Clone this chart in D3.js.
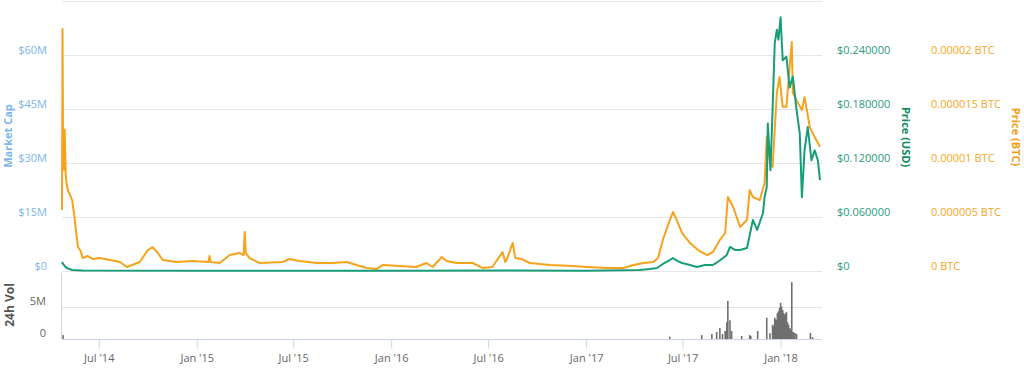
<!DOCTYPE html>
<html>
<head>
<meta charset="utf-8">
<script src="https://cdn.jsdelivr.net/npm/d3@7"></script>
<style>
  html, body { margin: 0; padding: 0; background: #fff; }
  svg { display: block; font-family: "Open Sans", sans-serif; }
</style>
</head>
<body>
<div id="chart"></div>
<script>
// Prix en BTC (date, valeur)
const priceBtc = [
  ["2014-04-23", 5.65e-6], ["2014-04-24", 22.4e-6], ["2014-04-25", 11.2e-6], ["2014-04-26", 12.6e-6],
  ["2014-04-27", 9.35e-6], ["2014-04-28", 13.1e-6], ["2014-04-30", 8.9e-6], ["2014-05-02", 7.96e-6],
  ["2014-05-04", 7.5e-6], ["2014-05-08", 7.04e-6], ["2014-05-12", 6.57e-6], ["2014-05-16", 5.19e-6],
  ["2014-05-19", 3.8e-6], ["2014-05-23", 2.22e-6], ["2014-05-27", 1.94e-6], ["2014-06-01", 1.2e-6],
  ["2014-06-10", 1.39e-6], ["2014-06-20", 1.11e-6], ["2014-07-03", 1.2e-6], ["2014-07-22", 1.02e-6],
  ["2014-08-10", 0.83e-6], ["2014-08-23", 0.37e-6], ["2014-09-16", 0.83e-6], ["2014-10-01", 1.94e-6],
  ["2014-10-10", 2.22e-6], ["2014-10-20", 1.67e-6], ["2014-10-29", 1.02e-6], ["2014-11-24", 0.83e-6],
  ["2014-12-24", 0.93e-6], ["2015-01-23", 0.83e-6], ["2015-01-25", 1.39e-6], ["2015-01-27", 0.83e-6],
  ["2015-02-13", 0.74e-6], ["2015-03-04", 1.48e-6], ["2015-03-22", 1.67e-6], ["2015-03-30", 1.48e-6],
  ["2015-04-01", 3.61e-6], ["2015-04-03", 1.67e-6], ["2015-04-10", 1.2e-6], ["2015-04-29", 0.74e-6],
  ["2015-06-11", 0.83e-6], ["2015-06-24", 1.11e-6], ["2015-07-13", 0.93e-6], ["2015-08-14", 0.74e-6],
  ["2015-09-13", 0.74e-6], ["2015-10-09", 0.83e-6], ["2015-10-28", 0.56e-6], ["2015-11-16", 0.28e-6],
  ["2015-12-05", 0.19e-6], ["2015-12-16", 0.56e-6], ["2016-01-17", 0.46e-6], ["2016-02-17", 0.37e-6],
  ["2016-03-07", 0.74e-6], ["2016-03-19", 0.37e-6], ["2016-04-05", 1.3e-6], ["2016-04-14", 0.93e-6],
  ["2016-05-03", 0.74e-6], ["2016-06-02", 0.74e-6], ["2016-06-20", 0.28e-6], ["2016-07-09", 0.37e-6],
  ["2016-07-28", 1.76e-6], ["2016-08-02", 0.83e-6], ["2016-08-06", 1.2e-6], ["2016-08-16", 2.59e-6],
  ["2016-08-21", 1.2e-6], ["2016-09-02", 1.11e-6], ["2016-09-17", 0.74e-6], ["2016-10-25", 0.56e-6],
  ["2016-12-07", 0.46e-6], ["2017-01-03", 0.37e-6], ["2017-02-10", 0.28e-6], ["2017-03-12", 0.28e-6],
  ["2017-03-31", 0.56e-6], ["2017-04-18", 0.74e-6], ["2017-05-07", 0.83e-6], ["2017-05-16", 1.2e-6],
  ["2017-05-25", 2.87e-6], ["2017-06-07", 4.72e-6], ["2017-06-13", 5.46e-6], ["2017-06-20", 4.72e-6],
  ["2017-06-30", 3.52e-6], ["2017-07-15", 2.59e-6], ["2017-07-30", 1.94e-6], ["2017-08-16", 1.48e-6],
  ["2017-08-27", 1.76e-6], ["2017-09-09", 2.87e-6], ["2017-09-19", 3.52e-6], ["2017-09-24", 6.85e-6],
  ["2017-10-04", 5.93e-6], ["2017-10-17", 4.07e-6], ["2017-10-30", 4.72e-6], ["2017-11-04", 7.5e-6],
  ["2017-11-10", 6.85e-6], ["2017-11-23", 6.57e-6], ["2017-12-02", 8.15e-6], ["2017-12-06", 12.4e-6],
  ["2017-12-12", 10.0e-6], ["2017-12-17", 9.63e-6], ["2017-12-25", 16.5e-6], ["2017-12-30", 17.96e-6],
  ["2018-01-05", 15.2e-6], ["2018-01-12", 15.2e-6], ["2018-01-18", 18.9e-6], ["2018-01-22", 21.2e-6],
  ["2018-01-24", 16.5e-6], ["2018-01-31", 15.8e-6], ["2018-02-10", 14.9e-6], ["2018-02-15", 16.1e-6],
  ["2018-02-25", 13.3e-6], ["2018-03-06", 12.4e-6], ["2018-03-16", 11.5e-6]
]

// Prix en USD
const priceUsd = [
  ["2014-04-23", 0.010], ["2014-04-25", 0.0078], ["2014-04-28", 0.0056], ["2014-05-02", 0.0033],
  ["2014-05-12", 0.0011], ["2014-06-01", 0.0006], ["2015-01-01", 0.0004], ["2016-01-01", 0.0003],
  ["2016-08-16", 0.0006], ["2017-01-01", 0.0004], ["2017-04-11", 0.0011], ["2017-05-01", 0.0022],
  ["2017-05-14", 0.0033], ["2017-05-25", 0.0078], ["2017-06-07", 0.0122], ["2017-06-13", 0.0144],
  ["2017-06-22", 0.011], ["2017-06-30", 0.0089], ["2017-07-15", 0.0067], ["2017-07-28", 0.0044],
  ["2017-08-12", 0.0067], ["2017-08-27", 0.0067], ["2017-09-05", 0.010], ["2017-09-15", 0.0144],
  ["2017-09-22", 0.0178], ["2017-09-28", 0.0267], ["2017-10-08", 0.0233], ["2017-10-17", 0.0233],
  ["2017-10-30", 0.0256], ["2017-11-10", 0.0567], ["2017-11-18", 0.0456], ["2017-11-29", 0.0644],
  ["2017-12-02", 0.0822], ["2017-12-06", 0.0933], ["2017-12-08", 0.164], ["2017-12-13", 0.112],
  ["2017-12-17", 0.179], ["2017-12-21", 0.253], ["2017-12-25", 0.268], ["2017-12-28", 0.257],
  ["2018-01-01", 0.282], ["2018-01-05", 0.234], ["2018-01-12", 0.238], ["2018-01-18", 0.204],
  ["2018-01-24", 0.216], ["2018-01-31", 0.179], ["2018-02-06", 0.153], ["2018-02-10", 0.082],
  ["2018-02-15", 0.134], ["2018-02-21", 0.160], ["2018-02-28", 0.123], ["2018-03-06", 0.134],
  ["2018-03-12", 0.123], ["2018-03-16", 0.101]
]

// Volume 24h
const volume = [
  ["2014-04-25", 0.6e6], ["2017-06-07", 0.36e6], ["2017-08-06", 0.6e6], ["2017-08-25", 0.78e6],
  ["2017-09-03", 1.1e6], ["2017-09-09", 1.7e6], ["2017-09-14", 0.78e6], ["2017-09-19", 1.24e6],
  ["2017-09-22", 2.6e6], ["2017-09-24", 5.9e6], ["2017-09-28", 2.9e6], ["2017-10-01", 1.24e6],
  ["2017-10-20", 0.47e6], ["2017-11-04", 0.6e6], ["2017-11-06", 0.47e6], ["2017-11-19", 1.24e6],
  ["2017-12-06", 3.3e6], ["2017-12-12", 0.9e6], ["2017-12-17", 2.2e6], ["2017-12-19", 2.0e6],
  ["2017-12-21", 3.3e6], ["2017-12-23", 3.0e6], ["2017-12-25", 2.9e6], ["2017-12-26", 4.0e6],
  ["2017-12-28", 4.3e6], ["2017-12-30", 4.8e6], ["2018-01-01", 5.6e6], ["2018-01-03", 5.0e6],
  ["2018-01-05", 4.5e6], ["2018-01-07", 4.0e6], ["2018-01-08", 3.7e6], ["2018-01-10", 3.9e6],
  ["2018-01-12", 4.2e6], ["2018-01-14", 2.6e6], ["2018-01-16", 2.2e6], ["2018-01-18", 1.7e6],
  ["2018-01-20", 1.5e6], ["2018-01-22", 8.8e6], ["2018-01-24", 1.1e6], ["2018-01-26", 1.0e6],
  ["2018-01-28", 0.93e6], ["2018-01-31", 0.78e6], ["2018-02-26", 0.93e6], ["2018-03-02", 0.3e6]
]

// Graduations
const capTicks = [0, 15e6, 30e6, 45e6, 60e6, 75e6]
const usdTicks = [0, 0.06, 0.12, 0.18, 0.24]
const btcTicks = [0, 0.000005, 0.00001, 0.000015, 0.00002]
const btcLabels = ["0 BTC", "0.000005 BTC", "0.00001 BTC", "0.000015 BTC", "0.00002 BTC"]
const volTicks = [0, 5e6]
const dateTicks = ["2014-07-01", "2015-01-01", "2015-07-01", "2016-01-01", "2016-07-01", "2017-01-01", "2017-07-01", "2018-01-01"]

const parse = d3.timeParse("%Y-%m-%d")

const width = 1024, height = 368
const plot = { left: 62, right: 822, top: 1, bottom: 271 }
const vol = { top: 274.4, bottom: 339 }

const colBtc = "#f7a21b", colUsd = "#179d78", colCap = "#7cb5ec", grid = "#e6e6e6"

const svg = d3.select("#chart")
  .append("svg")
  .attr("width", width)
  .attr("height", height)

// Échelles
const x = d3.scaleTime()
  .domain([parse("2014-04-23"), parse("2018-03-16")])
  .range([plot.left, 820])
const yCap = d3.scaleLinear().domain([0, 75e6]).range([plot.bottom, plot.top])
const yUsd = d3.scaleLinear().domain([0, 0.30]).range([plot.bottom, plot.top])
const yBtc = d3.scaleLinear().domain([0, 0.000025]).range([plot.bottom, plot.top])
const yVol = d3.scaleLinear().domain([0, 10e6]).range([vol.bottom, vol.top])

// Lignes de grille du graphique principal
svg.append("g")
  .selectAll("line")
  .data(capTicks)
  .join("line")
  .attr("x1", plot.left).attr("x2", plot.right)
  .attr("y1", d => Math.round(yCap(d)) + 0.5).attr("y2", d => Math.round(yCap(d)) + 0.5)
  .attr("stroke", grid)

// Axe gauche : Market Cap
svg.append("g")
  .selectAll("text")
  .data(capTicks.filter(d => d < 75e6))
  .join("text")
  .attr("x", 47)
  .attr("y", d => yCap(d) - 1)
  .attr("text-anchor", "end")
  .attr("font-size", 11)
  .attr("fill", colCap)
  .text(d => d === 0 ? "$0" : "$" + d / 1e6 + "M")

svg.append("text")
  .attr("transform", "translate(12,136) rotate(-90)")
  .attr("text-anchor", "middle")
  .attr("font-size", 11)
  .attr("font-weight", "bold")
  .attr("fill", colCap)
  .text("Market Cap")

// Axe droit : Prix USD
svg.append("g")
  .selectAll("text")
  .data(usdTicks)
  .join("text")
  .attr("x", 837)
  .attr("y", d => yUsd(d) - 1)
  .attr("font-size", 11)
  .attr("fill", "#2a9c7c")
  .text(d => d === 0 ? "$0" : "$" + d.toFixed(6))

svg.append("text")
  .attr("transform", "translate(902,137) rotate(90)")
  .attr("text-anchor", "middle")
  .attr("font-size", 11)
  .attr("font-weight", "bold")
  .attr("fill", "#0e8a66")
  .text("Price (USD)")

// Axe droit : Prix BTC
svg.append("g")
  .selectAll("text")
  .data(btcTicks)
  .join("text")
  .attr("x", 931)
  .attr("y", d => yBtc(d) - 1)
  .attr("font-size", 11)
  .attr("fill", "#f6a623")
  .text((d, i) => btcLabels[i])

svg.append("text")
  .attr("transform", "translate(1012,137) rotate(90)")
  .attr("text-anchor", "middle")
  .attr("font-size", 11)
  .attr("font-weight", "bold")
  .attr("fill", "#f39c12")
  .text("Price (BTC)")

// Courbes
const lineBtc = d3.line().x(d => x(parse(d[0]))).y(d => yBtc(d[1]))
const lineUsd = d3.line().x(d => x(parse(d[0]))).y(d => yUsd(d[1]))

svg.append("path")
  .datum(priceBtc)
  .attr("d", lineBtc)
  .attr("fill", "none")
  .attr("stroke", colBtc)
  .attr("stroke-width", 2)
  .attr("stroke-linejoin", "round")

svg.append("path")
  .datum(priceUsd)
  .attr("d", lineUsd)
  .attr("fill", "none")
  .attr("stroke", colUsd)
  .attr("stroke-width", 2)
  .attr("stroke-linejoin", "round")

// Panneau du volume
svg.append("g")
  .selectAll("line")
  .data(volTicks.filter(d => d > 0))
  .join("line")
  .attr("x1", plot.left).attr("x2", plot.right)
  .attr("y1", d => Math.round(yVol(d)) + 0.5).attr("y2", d => Math.round(yVol(d)) + 0.5)
  .attr("stroke", grid)

svg.append("g")
  .selectAll("rect")
  .data(volume)
  .join("rect")
  .attr("x", d => x(parse(d[0])) - 0.8)
  .attr("width", 1.6)
  .attr("y", d => yVol(d[1]))
  .attr("height", d => yVol(0) - yVol(d[1]))
  .attr("fill", "#6f6f6f")

svg.append("line")
  .attr("x1", plot.left - 0.5).attr("x2", plot.left - 0.5)
  .attr("y1", plot.bottom + 2).attr("y2", vol.bottom)
  .attr("stroke", "#ccd6eb")

svg.append("g")
  .selectAll("text")
  .data(volTicks)
  .join("text")
  .attr("x", 46)
  .attr("y", d => yVol(d) - 2)
  .attr("text-anchor", "end")
  .attr("font-size", 11)
  .attr("fill", "#666")
  .text(d => d === 0 ? "0" : d / 1e6 + "M")

svg.append("text")
  .attr("transform", "translate(14,305) rotate(-90)")
  .attr("text-anchor", "middle")
  .attr("font-size", 12)
  .attr("font-weight", "bold")
  .attr("fill", "#555")
  .text("24h Vol")

// Axe des dates
const xAxis = d3.axisBottom(x)
  .tickValues(dateTicks.map(parse))
  .tickFormat(d3.timeFormat("%b '%y"))
  .tickSize(9)
  .tickPadding(6)

const gx = svg.append("g")
  .attr("transform", `translate(0,${Math.round(vol.bottom) + 0.5})`)
  .call(xAxis)

gx.select(".domain")
  .attr("d", `M${plot.left},0H${plot.right}`)
  .attr("stroke", "#ccd6eb")
gx.selectAll(".tick line").attr("stroke", "#ccd6eb")
gx.selectAll(".tick text")
  .attr("font-family", "Open Sans, sans-serif")
  .attr("font-size", 11)
  .attr("fill", "#666")
</script>
</body>
</html>
